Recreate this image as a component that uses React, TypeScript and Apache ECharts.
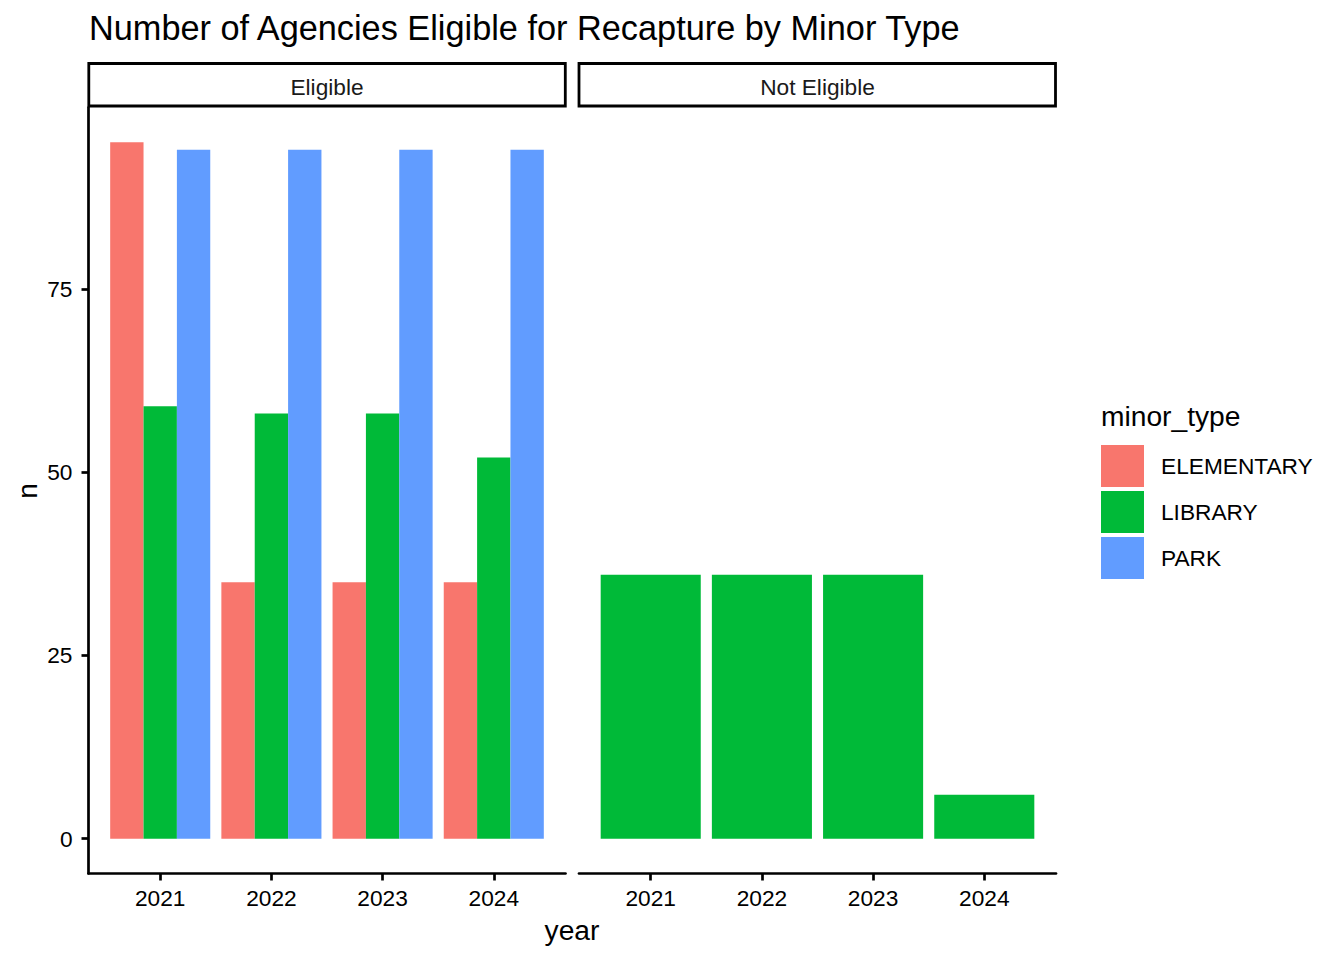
import React, { useEffect, useRef } from "react";
import * as echarts from "echarts";

const years = [2021, 2022, 2023, 2024];
const seriesNames = ["ELEMENTARY", "LIBRARY", "PARK"];
const eligibleElementary = [95, 35, 35, 35];
const eligibleLibrary = [59, 58, 58, 52];
const eligiblePark = [94, 94, 94, 94];
const notEligibleLibrary = [36, 36, 36, 6];
const yTicks = [0, 25, 50, 75];
const facetLabels = ["Eligible", "Not Eligible"];

const COLORS = { ELEMENTARY: "#F8766D", LIBRARY: "#00BA38", PARK: "#619CFF" };
const FONT = "'Liberation Sans', Arial, Helvetica, sans-serif";
const LW = 2.7;
const SMALL = 22.7;
const BIG = 28.2;

const barRenderer = (offset: number, halfWidth: number) => (params: any, api: any) => {
  const x = api.value(0) as number;
  const v = api.value(1) as number;
  const p1 = api.coord([x + offset - halfWidth, v]);
  const p2 = api.coord([x + offset + halfWidth, 0]);
  return {
    type: "rect",
    shape: { x: p1[0], y: p1[1], width: p2[0] - p1[0], height: p2[1] - p1[1] },
    style: { fill: api.visual("color") },
  };
};

const toData = (vals: number[]) => years.map((y, i) => [y, vals[i]]);

export default function App() {
  const ref = useRef<HTMLDivElement>(null);
  useEffect(() => {
    document.body.style.margin = "0";
    if (!ref.current) return;
    const chart = echarts.init(ref.current, null, { renderer: "svg" });

    const xMin = 2020.355;
    const xMax = 2024.645;
    const yMin = -4.75;
    const yMax = 99.75;

    const grids = [
      { left: 88.5, top: 107.5, width: 477, height: 766 },
      { left: 579, top: 107.5, width: 477, height: 766 },
    ];

    const xAxis = [0, 1].map((gi) => ({
      type: "value",
      gridIndex: gi,
      min: xMin,
      max: xMax,
      axisLine: { show: true, onZero: false, lineStyle: { color: "#000", width: LW } },
      axisTick: { show: true, length: 7, customValues: years, lineStyle: { color: "#000", width: LW } },
      axisLabel: {
        show: true,
        customValues: years,
        margin: 13,
        fontSize: SMALL,
        color: "#000",
        fontFamily: FONT,
        formatter: (v: number) => String(v),
      },
      splitLine: { show: false },
    }));

    const yAxis = [
      {
        type: "value",
        gridIndex: 0,
        min: yMin,
        max: yMax,
        axisLine: { show: true, onZero: false, lineStyle: { color: "#000", width: LW } },
        axisTick: { show: true, length: 7, customValues: yTicks, lineStyle: { color: "#000", width: LW } },
        axisLabel: {
          show: true,
          customValues: yTicks,
          margin: 16,
          fontSize: SMALL,
          color: "#000",
          fontFamily: FONT,
        },
        splitLine: { show: false },
      },
      {
        type: "value",
        gridIndex: 1,
        min: yMin,
        max: yMax,
        show: false,
        splitLine: { show: false },
      },
    ];

    const mk = (name: string, vals: number[], gi: number, offset: number, hw: number) => ({
      type: "custom",
      name,
      xAxisIndex: gi,
      yAxisIndex: gi,
      encode: { x: 0, y: 1 },
      itemStyle: { color: (COLORS as any)[name] },
      renderItem: barRenderer(offset, hw),
      data: toData(vals),
    });

    const series = [
      mk("ELEMENTARY", eligibleElementary, 0, -0.3, 0.15),
      mk("LIBRARY", eligibleLibrary, 0, 0, 0.15),
      mk("PARK", eligiblePark, 0, 0.3, 0.15),
      mk("LIBRARY", notEligibleLibrary, 1, 0, 0.45),
    ];

    const stripRect = (x: number) => ({
      type: "rect",
      shape: { x, y: 63.5, width: 476.5, height: 42.5 },
      style: { fill: "#fff", stroke: "#000", lineWidth: 2.8 },
    });
    const stripText = (cx: number, text: string) => ({
      type: "text",
      x: cx,
      y: 87,
      style: {
        text,
        fill: "#1a1a1a",
        fontSize: SMALL,
        fontFamily: FONT,
        align: "center",
        verticalAlign: "middle",
      },
    });

    chart.setOption({
      animation: false,
      textStyle: { fontFamily: FONT },
      title: {
        text: "Number of Agencies Eligible for Recapture by Minor Type",
        left: 89,
        top: 11,
        padding: 0,
        textStyle: { fontSize: 34.3, fontWeight: "normal", color: "#000", fontFamily: FONT },
      },
      legend: {
        orient: "vertical",
        left: 1101,
        top: 445,
        padding: 0,
        itemWidth: 43,
        itemHeight: 42,
        itemGap: 4,
        icon: "rect",
        data: seriesNames,
        selectedMode: false,
        textStyle: { fontSize: SMALL, color: "#000", fontFamily: FONT, padding: [4, 0, 0, 12] },
      },
      grid: grids,
      xAxis,
      yAxis,
      series,
      graphic: [
        stripRect(88.8),
        stripRect(579),
        stripText(327, facetLabels[0]),
        stripText(817.5, facetLabels[1]),
        {
          type: "text",
          x: 572,
          y: 929.5,
          style: { text: "year", fill: "#000", fontSize: BIG, fontFamily: FONT, align: "center", verticalAlign: "middle" },
        },
        {
          type: "text",
          x: 27,
          y: 491,
          rotation: Math.PI / 2,
          style: { text: "n", fill: "#000", fontSize: BIG, fontFamily: FONT, align: "center", verticalAlign: "middle" },
        },
        {
          type: "text",
          x: 1101,
          y: 416.3,
          style: { text: "minor_type", fill: "#000", fontSize: BIG, fontFamily: FONT, align: "left", verticalAlign: "middle" },
        },
      ],
    });
    return () => chart.dispose();
  }, []);
  return <div ref={ref} style={{ width: 1344, height: 960 }} />;
}
